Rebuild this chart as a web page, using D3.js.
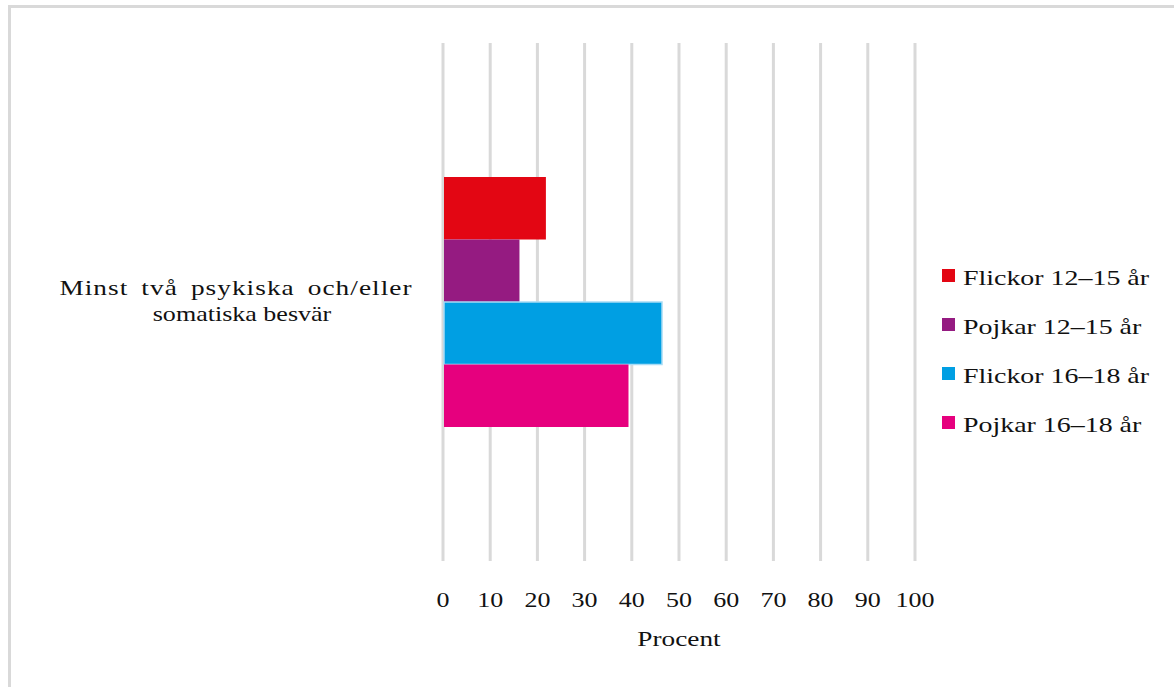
<!DOCTYPE html>
<html>
<head>
<meta charset="utf-8">
<script src="https://cdn.jsdelivr.net/npm/d3@7"></script>
<style>
  html, body { margin: 0; padding: 0; background: #fff; }
  svg { display: block; }
</style>
</head>
<body>
<svg id="chart" width="1174" height="687"></svg>
<script>
const categories = ["Minst två psykiska och/eller|somatiska besvär"];
const series = ["Flickor 12–15 år", "Pojkar 12–15 år", "Flickor 16–18 år", "Pojkar 16–18 år"];
const values = [21.8, 16.2, 46.4, 39.3];
const colors = ["#e30613", "#951b81", "#009fe3", "#e6007e"];
const xTicks = [0, 10, 20, 30, 40, 50, 60, 70, 80, 90, 100];
const xTitle = "Procent";

const svg = d3.select("#chart");
const font = "'Liberation Serif', 'Times New Roman', serif";

// frame
svg.append("rect").attr("x", 9.5).attr("y", 6.5).attr("width", 1200).attr("height", 720)
  .attr("fill", "#fff").attr("stroke", "#d9d9d9").attr("stroke-width", 3);

const x = d3.scaleLinear().domain([0, 100]).range([443, 915]);
const y0 = d3.scaleBand().domain(categories).range([43, 561]).paddingOuter(0.536).paddingInner(0);
const y1 = d3.scaleBand().domain(series).range([0, y0.bandwidth()]);

function stext(g, str, px, py, anchor, size, sx, ls, ws) {
  return g.append("text")
    .attr("transform", `translate(${px},${py}) scale(${sx},1)`)
    .attr("text-anchor", anchor)
    .attr("font-family", font)
    .attr("font-size", size)
    .attr("letter-spacing", ls || 0)
    .attr("word-spacing", ws || 0)
    .attr("fill", "#111")
    .text(str);
}

// gridlines
svg.append("g").selectAll("line").data(xTicks).join("line")
  .attr("x1", d => x(d)).attr("x2", d => x(d))
  .attr("y1", 43).attr("y2", 561)
  .attr("stroke", "#d9d9d9").attr("stroke-width", 3);

// bars
const gCat = svg.append("g").selectAll("g").data(categories).join("g")
  .attr("transform", d => `translate(0,${y0(d)})`);
gCat.selectAll("rect").data(series.map((s, i) => ({s, v: values[i], c: colors[i]}))).join("rect")
  .attr("x", x(0) + 1)
  .attr("y", d => y1(d.s))
  .attr("width", d => x(d.v) - x(0) - 1)
  .attr("height", y1.bandwidth())
  .attr("fill", d => d.c)
  .attr("stroke", d => d.s === "Flickor 16–18 år" ? "#a8dcf5" : "none")
  .attr("stroke-width", 1.5);

// category label
categories.forEach(c => {
  const lines = c.split("|");
  const cy = y0(c) + y0.bandwidth() / 2;
  stext(svg, lines[0], 236, cy - 7, "middle", 21, 1.3, 0.8, 4);
  stext(svg, lines[1], 242, cy + 19, "middle", 21, 1.24, 0);
});

// tick labels
xTicks.forEach(t => stext(svg, String(t), x(t), 607, "middle", 21, 1.24));
stext(svg, xTitle, x(50), 646, "middle", 21, 1.3);

// legend
series.forEach((s, i) => {
  const ly = 285 + i * 49;
  svg.append("rect").attr("x", 942).attr("y", ly - 16).attr("width", 13).attr("height", 13).attr("fill", colors[i]);
  stext(svg, s, 963, ly, "start", 21, 1.33);
});
</script>
</body>
</html>
